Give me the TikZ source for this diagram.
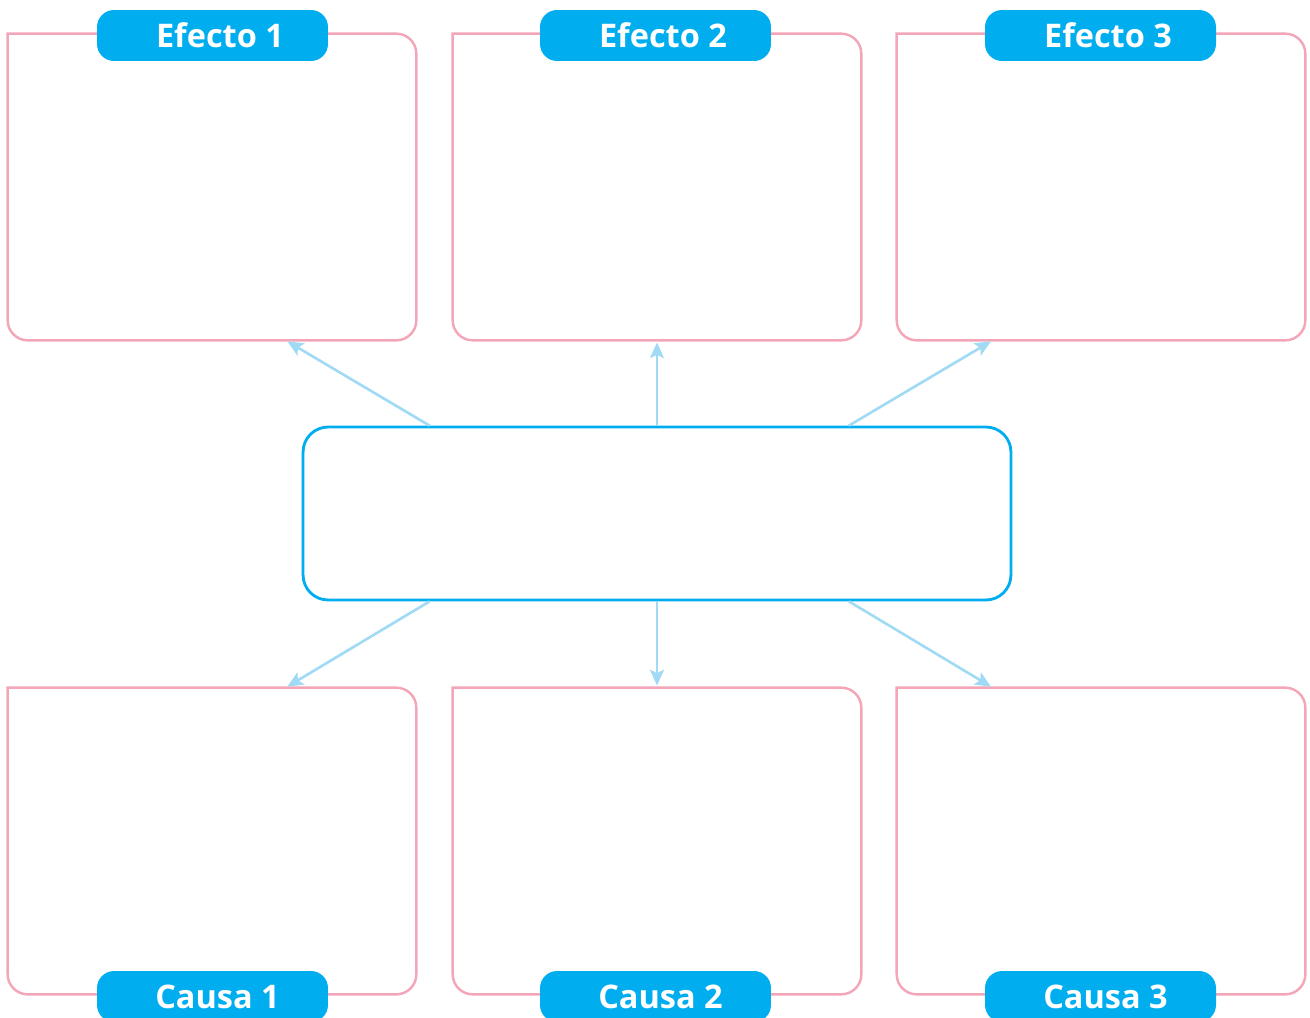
\documentclass[tikz,border=0pt]{standalone}
\usepackage{fontspec}
\setmainfont{Open Sans}
\definecolor{tagblue}{RGB}{0, 174, 239}
\definecolor{linkblue}{RGB}{160, 218, 245}
\definecolor{framepink}{RGB}{243, 166, 184}
\usetikzlibrary{positioning,calc,arrows.meta}

\begin{document}
\begin{tikzpicture}[x=0.02cm,y=-0.02cm,
    frame/.style={minimum width=8.16cm,minimum height=6.12cm,inner sep=0pt},
    topic/.style={draw=tagblue,line width=1.6pt,rounded corners=0.5cm,
        minimum width=14.16cm,minimum height=3.46cm},
    tag/.style={fill=tagblue,text=white,rounded corners=0.34cm,
        minimum width=4.62cm,minimum height=1.02cm,inner sep=0pt,
        font=\fontsize{18.5}{19}\selectfont\bfseries},
    link/.style={draw=linkblue,line width=1.5pt,
        -{Stealth[length=9pt,width=8pt,inset=2pt]},shorten >=1.2pt}]
    \useasboundingbox (0,0) rectangle (1310,1017);

    % frames, effects on top and causes below
    \node[frame] (e1) at (212,187) {};
    \node[frame] (e2) at (657,187) {};
    \node[frame] (e3) at (1101,187) {};
    \node[frame] (c1) at (212,841) {};
    \node[frame] (c2) at (657,841) {};
    \node[frame] (c3) at (1101,841) {};
    \foreach \b in {e1,e2,e3,c1,c2,c3}
        \draw[framepink,line width=1.4pt,line cap=rect,rounded corners=0.4cm]
            (\b.north west) -- (\b.north east) -- (\b.south east)
            -- (\b.south west) -- (\b.north west);

    \node[topic] (mid) at (657,513.5) {};

    \node[tag] (t1) at (212.5,35.5) {\hspace*{0.3cm}Efecto 1};
    \node[tag] (t2) at (655.5,35.5) {\hspace*{0.3cm}Efecto 2};
    \node[tag] (t3) at (1100.5,35.5) {\hspace*{0.3cm}Efecto 3};
    \node[tag] (k1) at (212.5,996.5) {\hspace*{0.2cm}Causa 1};
    \node[tag] (k2) at (655.5,996.5) {\hspace*{0.2cm}Causa 2};
    \node[tag] (k3) at (1100.5,996.5) {\hspace*{0.2cm}Causa 3};

    % links
    \draw[link] ($(mid.north west)!0.18!(mid.north east)$) -- ($(e1.south west)!0.68!(e1.south east)$);
    \draw[link] (mid.north) -- (e2.south);
    \draw[link] ($(mid.north west)!0.77!(mid.north east)$) -- ($(e3.south west)!0.235!(e3.south east)$);
    \draw[link] ($(mid.south west)!0.18!(mid.south east)$) -- ($(c1.north west)!0.68!(c1.north east)$);
    \draw[link] (mid.south) -- (c2.north);
    \draw[link] ($(mid.south west)!0.77!(mid.south east)$) -- ($(c3.north west)!0.235!(c3.north east)$);
\end{tikzpicture}
\end{document}
